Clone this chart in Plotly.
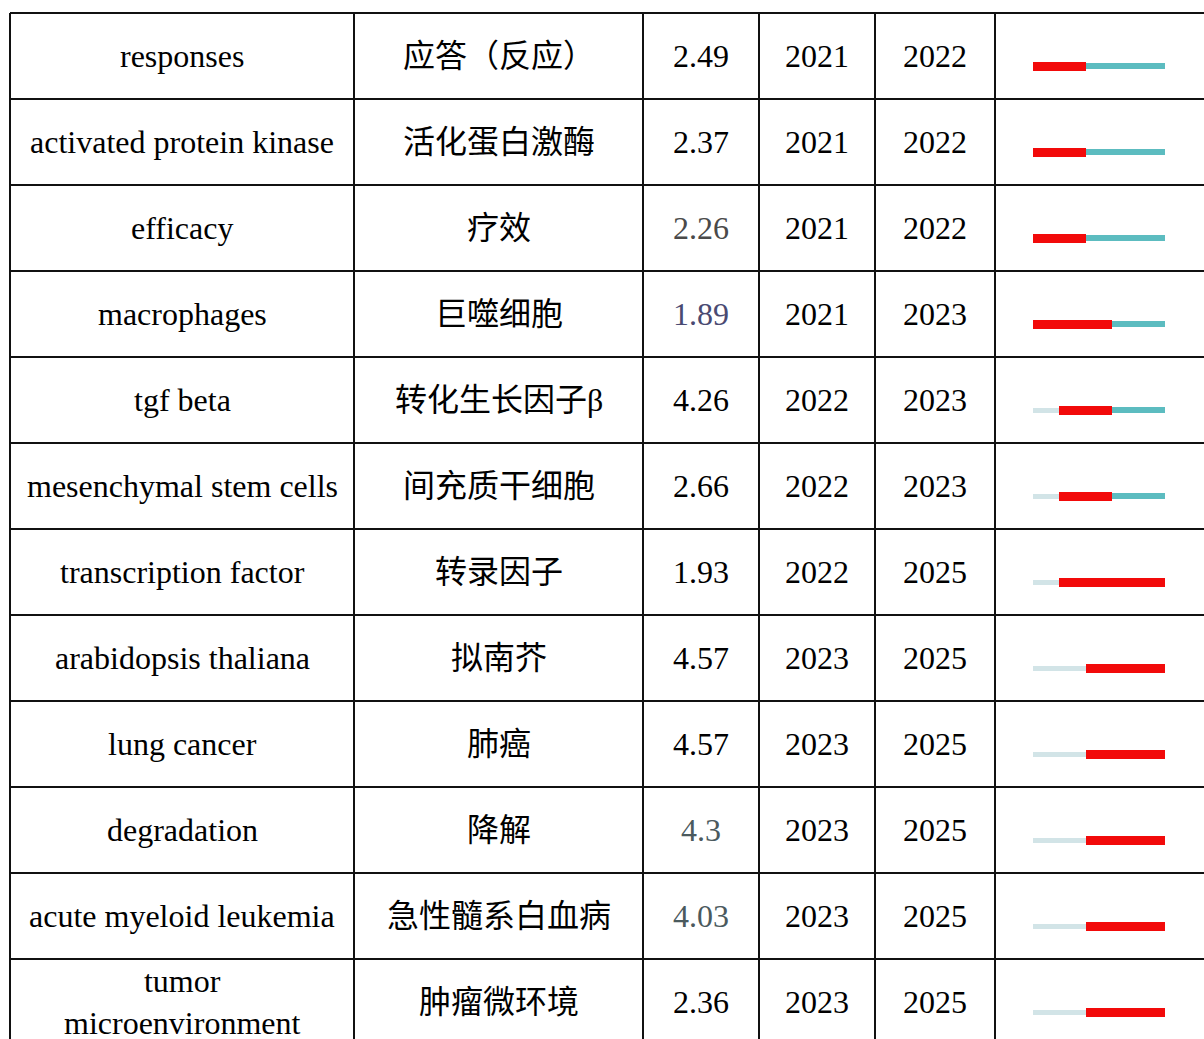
import plotly.graph_objects as go

# ---------------- data ----------------
keywords_en = ["responses", "activated protein kinase", "efficacy", "macrophages",
               "tgf beta", "mesenchymal stem cells", "transcription factor",
               "arabidopsis thaliana", "lung cancer", "degradation",
               "acute myeloid leukemia", "tumor<br>microenvironment"]
keywords_zh = ["应答（反应）", "活化蛋白激酶", "疗效", "巨噬细胞", "转化生长因子β",
               "间充质干细胞", "转录因子", "拟南芥", "肺癌", "降解",
               "急性髓系白血病", "肿瘤微环境"]
strength = [2.49, 2.37, 2.26, 1.89, 4.26, 2.66, 1.93, 4.57, 4.57, 4.3, 4.03, 2.36]
begin_year = [2021, 2021, 2021, 2021, 2022, 2022, 2022, 2023, 2023, 2023, 2023, 2023]
end_year = [2022, 2022, 2022, 2023, 2023, 2023, 2025, 2025, 2025, 2025, 2025, 2025]
timeline_start = 2021
timeline_end = 2025

# ---------------- styles ----------------
value_colors = ["#000000", "#000000", "#4a4a4a", "#4a4a72", "#000000", "#000000",
                "#000000", "#000000", "#000000", "#4b5a5e", "#4b5a5e", "#000000"]
FONT = "Liberation Serif, Times New Roman, Noto Sans CJK SC, serif"
W, H = 1204, 1039
TOP = 13
ROW_H = 86
COL_EDGES = [10, 354, 643, 759, 875, 995, 1212]
SPARK_X0, SPARK_X1 = 1033, 1165
SPARK_OFFSET = 10  # px below row centre
RED = "#f20a0a"
TEAL = "#5cbcc0"
PALE = "#d2e4e7"
FS = 32

n = len(keywords_en)
rows = list(range(n))

fig = go.Figure()

# sparkline bars on secondary axes (years)
pre_len = [b - timeline_start for b in begin_year]
burst_len = [e - b + 1 for b, e in zip(begin_year, end_year)]
post_len = [timeline_end - e for e in end_year]

fig.add_trace(go.Bar(orientation="h", y=rows, x=pre_len,
                     base=[timeline_start - 0.5] * n, width=5 / ROW_H,
                     marker=dict(color=PALE, line=dict(width=0)),
                     xaxis="x2", yaxis="y2", hoverinfo="skip"))
fig.add_trace(go.Bar(orientation="h", y=rows, x=post_len,
                     base=[e + 0.5 for e in end_year], width=6 / ROW_H,
                     marker=dict(color=TEAL, line=dict(width=0)),
                     xaxis="x2", yaxis="y2", hoverinfo="skip"))
fig.add_trace(go.Bar(orientation="h", y=rows, x=burst_len,
                     base=[b - 0.5 for b in begin_year], width=9 / ROW_H,
                     marker=dict(color=RED, line=dict(width=0)),
                     xaxis="x2", yaxis="y2", hoverinfo="skip"))

# table axis: y in row units, row i centred at i (page pixel coords)
c0 = TOP + ROW_H / 2
y_top = (0 - c0) / ROW_H
y_bot = (H - c0) / ROW_H
c2 = c0 + SPARK_OFFSET
y2_top = (0 - c2) / ROW_H
y2_bot = (H - c2) / ROW_H

shapes = []
for i in range(n + 1):
    shapes.append(dict(type="line", xref="x", yref="y", x0=COL_EDGES[0], x1=COL_EDGES[-1],
                       y0=i - 0.5, y1=i - 0.5, line=dict(color="#111111", width=2)))
for xe in COL_EDGES:
    shapes.append(dict(type="line", xref="x", yref="y", x0=xe, x1=xe,
                       y0=-0.5, y1=n - 0.5, line=dict(color="#111111", width=2)))

annotations = []
centers = [(COL_EDGES[k] + COL_EDGES[k + 1]) / 2 for k in range(5)]
for i in range(n):
    cells = [keywords_en[i], keywords_zh[i], str(strength[i]),
             str(begin_year[i]), str(end_year[i])]
    colors = ["#000000", "#000000", value_colors[i], "#000000", "#000000"]
    for k in range(5):
        annotations.append(dict(x=centers[k], y=i, xref="x", yref="y", text=cells[k],
                                showarrow=False, xanchor="center", yanchor="middle",
                                font=dict(family=FONT, size=FS, color=colors[k])))

fig.update_layout(
    width=W, height=H, margin=dict(l=0, r=0, t=0, b=0),
    paper_bgcolor="white", plot_bgcolor="white", showlegend=False,
    barmode="overlay", bargap=0,
    xaxis=dict(range=[0, W], visible=False, fixedrange=True, domain=[0, 1]),
    yaxis=dict(range=[y_bot, y_top], visible=False, fixedrange=True, domain=[0, 1]),
    xaxis2=dict(range=[timeline_start - 0.5, timeline_end + 0.5], visible=False,
                domain=[SPARK_X0 / W, SPARK_X1 / W], anchor="y2"),
    yaxis2=dict(range=[y2_bot, y2_top], visible=False, domain=[0, 1], anchor="x2"),
    shapes=shapes, annotations=annotations,
)

fig.write_html("out.html",
               config={"displayModeBar": False},
               post_script="document.body.style.margin='0px';"
                           "document.body.style.overflow='hidden';")
